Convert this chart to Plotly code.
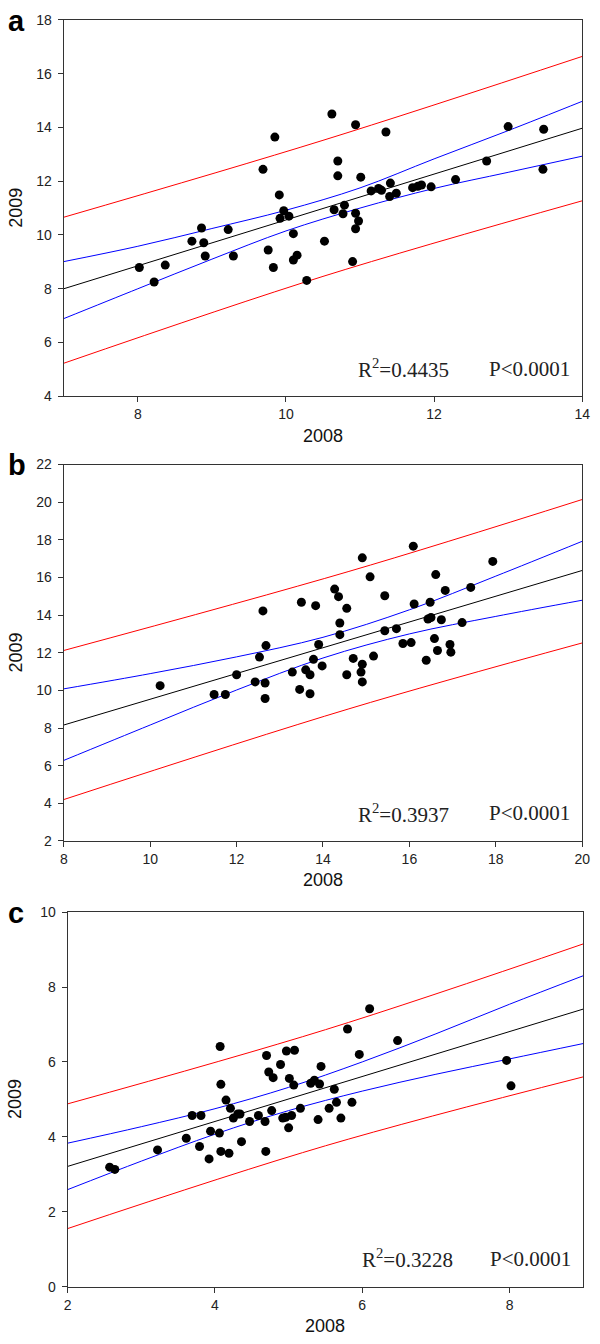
import plotly.graph_objects as go

# ---------------- Panel a data ----------------
a_x2008 = [10.62, 10.94, 9.85, 11.35, 13.0, 13.48, 9.69, 10.70, 10.70, 11.01, 12.71, 13.47, 12.29,
           11.15, 11.25, 11.29, 11.41, 11.40, 11.49, 11.71, 11.78, 11.83, 11.96, 9.91, 9.97, 9.92,
           10.04, 10.65, 10.79, 10.77, 10.94, 10.98, 8.86, 9.22, 8.73, 8.89, 8.91, 9.29, 8.02, 8.37,
           8.22, 9.76, 9.83, 10.10, 10.10, 10.15, 10.28, 10.52, 10.90, 10.94]
a_y2009 = [14.5, 14.1, 13.64, 13.83, 14.03, 13.93, 12.44, 12.75, 12.2, 12.15, 12.75, 12.44, 12.06,
           11.64, 11.73, 11.66, 11.93, 11.43, 11.55, 11.76, 11.81, 11.86, 11.79, 11.49, 10.9, 10.62,
           10.7, 10.94, 11.11, 10.79, 10.81, 10.52, 10.26, 10.2, 9.77, 9.71, 9.22, 9.22, 8.79, 8.88,
           8.25, 9.44, 8.79, 10.05, 9.07, 9.25, 8.31, 9.77, 9.01, 10.23]
a_fit_x = [7, 14]
a_fit_y = [8.0, 13.97]
a_band_x = [7, 8, 9, 10, 11, 12, 13, 14]
a_ci_upper = [9.01, 9.58, 10.24, 10.92, 11.75, 12.83, 13.88, 14.97]
a_ci_lower = [6.89, 8.0, 9.1, 10.15, 11.0, 11.73, 12.33, 12.93]
a_pi_x = [7, 10.5, 14]
a_pi_upper = [10.66, 13.52, 16.64]
a_pi_lower = [5.23, 8.46, 11.27]
a_xticks = [8, 10, 12, 14]
a_yticks = [4, 6, 8, 10, 12, 14, 16, 18]
a_xrange = [7, 14]
a_yrange = [4, 18]
a_r2 = "0.4435"

# ---------------- Panel b data ----------------
b_x2008 = [16.09, 14.91, 15.09, 17.93, 16.61, 14.27, 14.36, 15.43, 16.83, 17.42, 13.50, 13.83, 12.61,
           14.55, 16.11, 16.48, 14.39, 14.39, 16.43, 16.50, 16.74, 17.22, 15.43, 15.70, 15.85, 16.04,
           16.58, 16.94, 16.65, 16.96, 12.68, 13.90, 12.53, 13.78, 14.70, 15.17, 16.39, 10.23, 11.48,
           11.74, 12.0, 12.43, 12.66, 12.66, 13.29, 13.46, 13.60, 13.70, 13.70, 13.98, 14.55, 14.88,
           14.91, 14.91]
b_y2009 = [17.66, 17.04, 16.03, 16.85, 16.15, 15.38, 14.98, 15.03, 15.31, 15.47, 14.68, 14.5, 14.22,
           14.36, 14.59, 14.68, 13.58, 12.96, 13.79, 13.87, 13.75, 13.6, 13.17, 13.28, 12.49, 12.54,
           12.75, 12.44, 12.12, 12.03, 12.38, 12.44, 11.77, 11.65, 11.70, 11.82, 11.6, 10.25, 9.78,
           9.78, 10.83, 10.45, 10.39, 9.57, 10.97, 10.05, 11.09, 10.83, 9.82, 11.3, 10.83, 10.97,
           11.39, 10.45]
b_fit_x = [8, 20]
b_fit_y = [8.16, 16.37]
b_band_x = [8, 10, 12, 14, 16, 18, 20]
b_ci_upper = [10.08, 10.89, 11.78, 12.82, 14.28, 16.07, 17.92]
b_ci_lower = [6.28, 8.16, 10.02, 11.72, 13.0, 13.93, 14.79]
b_pi_x = [8, 14.6, 20]
b_pi_upper = [12.12, 16.32, 20.14]
b_pi_lower = [4.2, 9.02, 12.52]
b_xticks = [8, 10, 12, 14, 16, 18, 20]
b_yticks = [2, 4, 6, 8, 10, 12, 14, 16, 18, 20, 22]
b_xrange = [8, 20]
b_yrange = [2, 22]
b_r2 = "0.3937"

# ---------------- Panel c data ----------------
c_x2008 = [6.10, 5.80, 6.48, 4.07, 4.70, 5.96, 4.97, 5.08, 5.44, 4.89, 4.73, 4.79, 5.01, 5.07, 5.30,
           5.35, 5.42, 5.62, 4.08, 4.15, 7.96, 8.02, 5.86, 4.21, 4.25, 4.31, 4.34, 3.69, 3.81, 3.61,
           3.79, 3.94, 4.06, 3.92, 4.08, 4.19, 4.36, 3.22, 2.57, 2.64, 4.47, 4.59, 4.68, 4.69, 4.77,
           4.92, 4.96, 5.0, 5.04, 5.16, 5.40, 5.55, 5.65, 5.71]
c_y2009 = [7.42, 6.88, 6.57, 6.41, 6.17, 6.2, 6.29, 6.31, 5.88, 5.93, 5.73, 5.58, 5.56, 5.38, 5.43,
           5.51, 5.41, 5.27, 5.4, 4.98, 6.04, 5.36, 4.92, 4.76, 4.5, 4.61, 4.61, 4.57, 4.57, 3.96,
           3.74, 4.15, 4.1, 3.41, 3.61, 3.56, 3.87, 3.65, 3.19, 3.13, 4.41, 4.57, 4.41, 3.61, 4.7,
           4.5, 4.52, 4.24, 4.57, 4.76, 4.46, 4.76, 4.92, 4.5]
c_fit_x = [2, 9]
c_fit_y = [3.21, 7.41]
c_band_x = [2, 3, 4, 5, 6, 7, 8, 9]
c_ci_upper = [3.83, 4.27, 4.75, 5.32, 6.0, 6.75, 7.54, 8.3]
c_ci_lower = [2.59, 3.35, 4.07, 4.70, 5.22, 5.67, 6.08, 6.49]
c_pi_x = [2, 5.5, 9]
c_pi_upper = [4.88, 6.86, 9.15]
c_pi_lower = [1.55, 3.76, 5.6]
c_xticks = [2, 4, 6, 8]
c_yticks = [0, 2, 4, 6, 8, 10]
c_xrange = [2, 9]
c_yrange = [0, 10]
c_r2 = "0.3228"

panel_letters = ["a", "b", "c"]
x_title = "2008"
y_title = "2009"

W, H = 600, 1344
# plot-area pixel boxes (left, right, top, bottom)
boxes = [(61, 590, 12, 393), (61, 590, 462, 843), (65, 591, 915, 1294)]

panels = [
    (a_x2008, a_y2009, a_fit_x, a_fit_y, a_band_x, a_ci_upper, a_ci_lower, a_pi_x, a_pi_upper,
     a_pi_lower, a_xticks, a_yticks, a_xrange, a_yrange, a_r2),
    (b_x2008, b_y2009, b_fit_x, b_fit_y, b_band_x, b_ci_upper, b_ci_lower, b_pi_x, b_pi_upper,
     b_pi_lower, b_xticks, b_yticks, b_xrange, b_yrange, b_r2),
    (c_x2008, c_y2009, c_fit_x, c_fit_y, c_band_x, c_ci_upper, c_ci_lower, c_pi_x, c_pi_upper,
     c_pi_lower, c_xticks, c_yticks, c_xrange, c_yrange, c_r2),
]

fig = go.Figure()
annotations = []
tick_font = dict(family="Liberation Sans, Arial, sans-serif", size=14, color="#222")
title_font = dict(family="Liberation Sans, Arial, sans-serif", size=18, color="#111")
stat_font = dict(family="Liberation Serif, Times New Roman, serif", size=21, color="#222")


def px_x(p):
    return p / W


def px_y(p):
    return 1 - p / H


for i, (px, py, fx, fy, bx, cu, cl, pix, piu, pil, xt, yt, xr, yr, r2) in enumerate(panels):
    n = "" if i == 0 else str(i + 1)
    xa, ya = "x" + n, "y" + n
    line_common = dict(xaxis=xa, yaxis=ya, mode="lines", showlegend=False, hoverinfo="skip")
    fig.add_trace(go.Scatter(x=pix, y=piu, line=dict(color="#ff0000", width=1, shape="spline"), **line_common))
    fig.add_trace(go.Scatter(x=pix, y=pil, line=dict(color="#ff0000", width=1, shape="spline"), **line_common))
    fig.add_trace(go.Scatter(x=bx, y=cu, line=dict(color="#0000ff", width=1, shape="spline"), **line_common))
    fig.add_trace(go.Scatter(x=bx, y=cl, line=dict(color="#0000ff", width=1, shape="spline"), **line_common))
    fig.add_trace(go.Scatter(x=fx, y=fy, line=dict(color="#000000", width=1), **line_common))
    fig.add_trace(go.Scatter(x=px, y=py, xaxis=xa, yaxis=ya, mode="markers", showlegend=False,
                             marker=dict(color="#000000", size=9, symbol="circle")))

    l, r, t, b = boxes[i]
    axis_common = dict(showgrid=False, zeroline=False, showline=True, linecolor="#333",
                       linewidth=1.3, mirror=True, ticks="outside", ticklen=5, tickwidth=1,
                       tickcolor="#333", tickfont=tick_font, tickmode="array")
    fig.update_layout(**{
        ("xaxis" + n): dict(domain=[px_x(l), px_x(r)], range=xr, tickvals=xt,
                            ticktext=[str(v) for v in xt], anchor=ya, **axis_common),
        ("yaxis" + n): dict(domain=[px_y(b), px_y(t)], range=yr, tickvals=yt,
                            ticktext=[str(v) for v in yt], anchor=xa, ticklabelstandoff=3,
                            **axis_common),
    })

    annotations.append(dict(text="<b>" + panel_letters[i] + "</b>", x=px_x(2), y=px_y(t + 1),
                            xref="paper", yref="paper", xanchor="left", yanchor="middle",
                            showarrow=False,
                            font=dict(family="Liberation Sans, Arial, sans-serif", size=29, color="#000")))
    annotations.append(dict(text=x_title, x=px_x((l + r) / 2), y=px_y(b + 40), xref="paper",
                            yref="paper", xanchor="center", yanchor="middle", showarrow=False,
                            font=title_font))
    annotations.append(dict(text=y_title, x=px_x(12), y=px_y((t + b) / 2), xref="paper",
                            yref="paper", xanchor="center", yanchor="middle", textangle=-90,
                            showarrow=False, font=title_font))
    annotations.append(dict(text="R<sup>2</sup>=" + r2, x=px_x(l + 298), y=px_y(b - 28),
                            xref="paper", yref="paper", xanchor="left", yanchor="middle",
                            showarrow=False, font=stat_font))
    annotations.append(dict(text="P&lt;0.0001", x=px_x(r - 10), y=px_y(b - 28),
                            xref="paper", yref="paper", xanchor="right", yanchor="middle",
                            showarrow=False, font=stat_font))

fig.update_layout(width=W, height=H, margin=dict(l=0, r=0, t=0, b=0),
                  paper_bgcolor="white", plot_bgcolor="white", annotations=annotations,
                  showlegend=False)

fig.write_html("out.html", config={"displayModeBar": False},
               post_script="document.body.style.margin='0';document.body.style.overflow='hidden';"
                           "document.documentElement.style.overflow='hidden';")
